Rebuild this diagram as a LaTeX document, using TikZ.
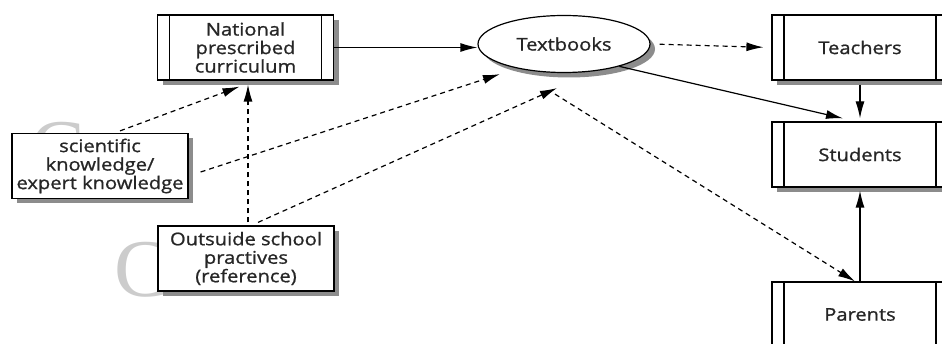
\documentclass[tikz,border=0pt]{standalone}
\usepackage{fontspec}
\setmainfont{Open Sans}[FakeStretch=1.15, FakeBold=1]
\newfontfamily\wmfont{Liberation Serif}
\usetikzlibrary{positioning,arrows.meta,shapes.geometric,shadows}
\definecolor{shade}{HTML}{8C8C8C}
\tikzset{
  box/.style={draw, line width=1.2pt, fill=white, align=center, text=black!85,
    font=\fontsize{17.5}{18.5}\selectfont,
    minimum width=176pt, minimum height=65pt, inner sep=2pt,
    drop shadow={shadow xshift=5pt, shadow yshift=-5pt, fill=shade, opacity=1}},
  proc/.style={box, path picture={
    \draw[line width=1.2pt] ([xshift=12pt]path picture bounding box.north west) -- ([xshift=12pt]path picture bounding box.south west);
    \draw[line width=1.2pt] ([xshift=-12pt]path picture bounding box.north east) -- ([xshift=-12pt]path picture bounding box.south east);}},
  sig/.style={-{Latex[length=17pt,width=9pt]}, line width=1.2pt},
  dsig/.style={sig, dash pattern=on 5pt off 4pt},
}
\begin{document}
\begin{tikzpicture}[x=1pt, y=-1pt]
  \useasboundingbox (0,0) rectangle (942,344);
  \clip (0,0) rectangle (942,344);
  % faint watermark letters
  \node[text=black!20, font=\wmfont\fontsize{82}{82}\selectfont] (wa) at (58,150) {C};
  \node[text=black!20, font=\wmfont\fontsize{82}{82}\selectfont] (wb) at (142,270) {C};
  % boxes
  \node[proc] (nat) at (245.5,47.5) {National\\prescribed\\curriculum};
  \node[box, ellipse, minimum width=172pt, minimum height=57pt] (txt) at (564,44) {Textbooks};
  \node[proc] (tea) at (860,47.5) {Teachers};
  \node[proc] (stu) at (860,154.5) {Students};
  \node[proc] (par) at (860,314.5) {Parents};
  \node[box] (sci) at (100,166) {scientific\\knowledge/\\expert knowledge};
  \node[box] (out) at (246,258.5) {Outsuide school\\practives\\(reference)};
  % connectors
  \draw[sig] (nat.east) -- (nat.east -| txt.west);
  \draw[dsig, shorten <=9pt, shorten >=8pt] (txt.east) -- (tea.west);
  \draw[sig] (txt.-22) -- ([xshift=-17pt,yshift=3pt]stu.north);
  \draw[sig, shorten <=4pt, shorten >=3pt] (tea.south) -- (stu.south |- stu.north);
  \draw[sig, shorten >=3pt] (par.north) -- (stu.south);
  \draw[dsig] ([xshift=-9pt,yshift=-21pt]txt.south) -- ([xshift=-5pt]par.north);
  \draw[dsig] ([xshift=20pt,yshift=2pt]sci.north) -- ([xshift=-6pt,yshift=-6pt]nat.south);
  \draw[dsig] ([xshift=12pt,yshift=-6pt]sci.east) -- ([xshift=-64pt,yshift=-1pt]txt.south);
  \draw[dsig, shorten >=4pt] ([xshift=2pt,yshift=3pt]out.north) -- ([xshift=2pt]out.north |- nat.south);
  \draw[dsig] ([xshift=12pt,yshift=3pt]out.north) -- ([xshift=-7pt,yshift=-15pt]txt.south);
\end{tikzpicture}
\end{document}
